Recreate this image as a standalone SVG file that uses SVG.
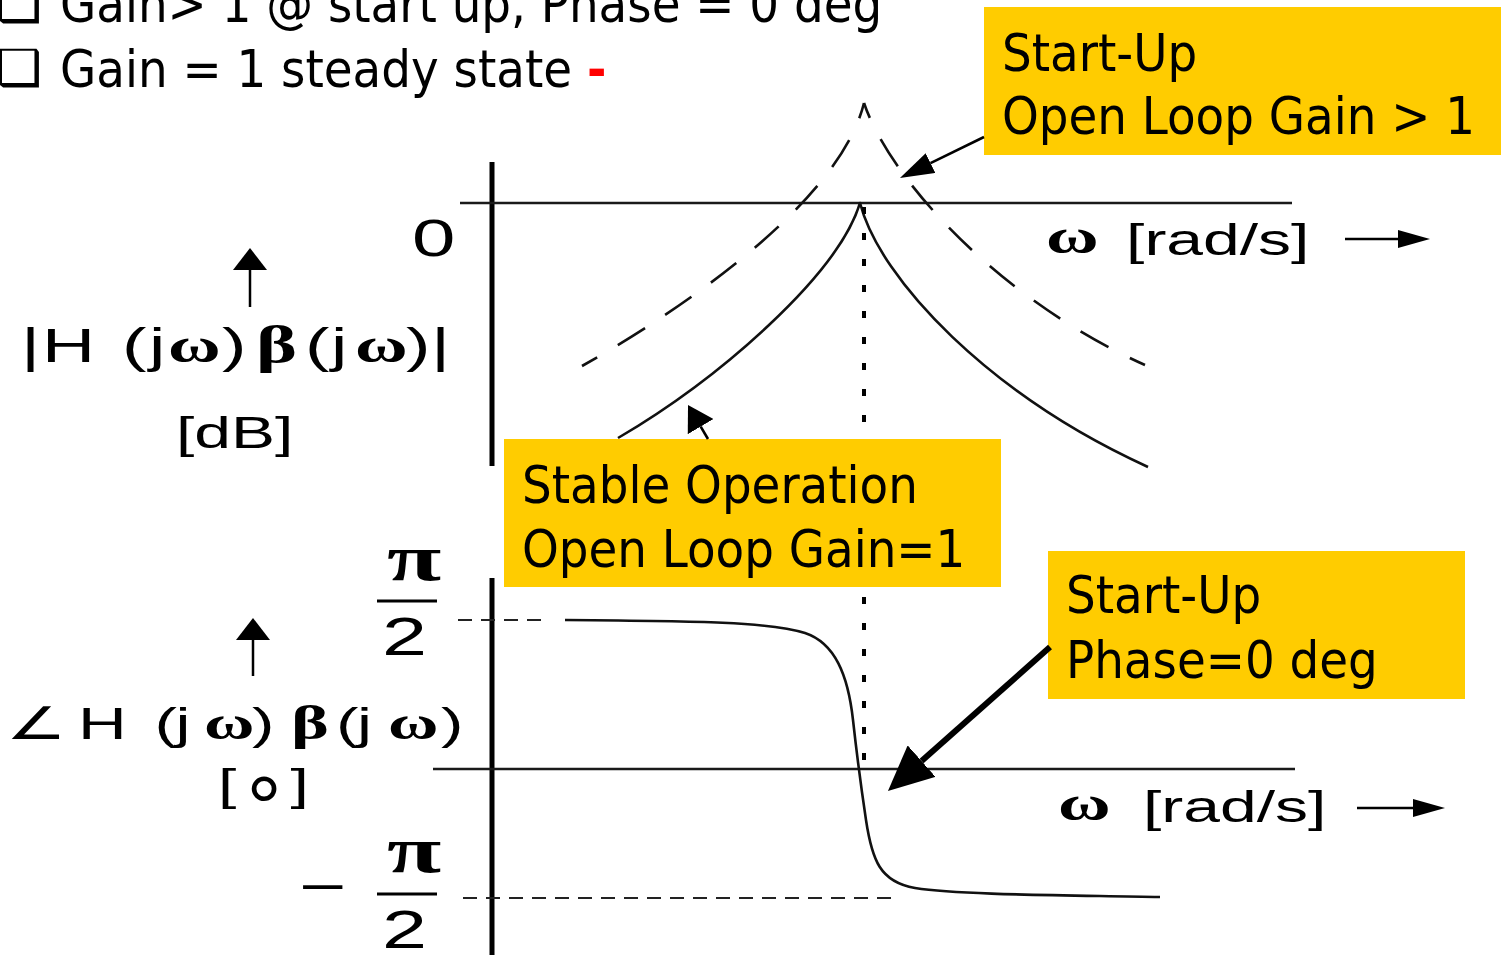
<svg xmlns="http://www.w3.org/2000/svg" width="1501" height="955" viewBox="0 0 1501 955">
<style>
.callout{fill:#FFCC00}
.ctext{font-family:"DejaVu Sans Condensed","DejaVu Sans","Liberation Sans",sans-serif;font-stretch:condensed;font-size:52px;fill:#000}
.bul{font-family:"DejaVu Sans",sans-serif;font-size:50px;fill:#000}
.lbl{font-family:"Liberation Sans",Arial,sans-serif;fill:#000}
.gk{font-family:"Liberation Serif","Times New Roman",serif;font-weight:bold;fill:#000}
.axis{stroke:#000;stroke-width:5;fill:none}
.ref{stroke:#1a1a1a;stroke-width:2.4;fill:none}
.trace{stroke:#111;stroke-width:2.6;fill:none;stroke-linejoin:round}
.trace-dash{stroke:#111;stroke-width:2.6;fill:none;stroke-dasharray:32 24;stroke-dashoffset:16}
.guide{stroke:#000;stroke-width:4;stroke-dasharray:7 19;fill:none}
.level{stroke:#222;stroke-width:2;stroke-dasharray:14 9;fill:none}
.bar{stroke:#000;stroke-width:3;fill:none}
.ptr{stroke:#000;fill:none}
</style>
<defs>
  <marker id="headA" markerUnits="userSpaceOnUse" viewBox="0 0 34 22" markerWidth="34" markerHeight="22" refX="0" refY="11" orient="auto"><path d="M0,0 L34,11 L0,22 Z" fill="#000"/></marker>
  <marker id="headB" markerUnits="userSpaceOnUse" viewBox="0 0 25 30" markerWidth="25" markerHeight="30" refX="0" refY="15" orient="auto"><path d="M0,0 L25,15 L0,30 Z" fill="#000"/></marker>
  <marker id="headC" markerUnits="userSpaceOnUse" viewBox="0 0 45 42" markerWidth="45" markerHeight="42" refX="0" refY="21" orient="auto"><path d="M0,0 L45,21 L0,42 Z" fill="#000"/></marker>
  <marker id="headUp" markerUnits="userSpaceOnUse" viewBox="0 0 22 34" markerWidth="22" markerHeight="34" refX="0" refY="17" orient="auto"><path d="M0,0 L22,17 L0,34 Z" fill="#000"/></marker>
  <marker id="headRight" markerUnits="userSpaceOnUse" viewBox="0 0 32 18" markerWidth="32" markerHeight="18" refX="0" refY="9" orient="auto"><path d="M0,0 L32,9 L0,18 Z" fill="#000"/></marker>
</defs>
<rect width="1501" height="955" fill="#fff"/>

<!-- bullet list -->
<g id="bullets">
  <text class="bul" x="-3" y="21">❑</text>
  <text class="ctext" x="60" y="22">Gain&gt; 1 @ start up, Phase = 0 deg</text>
  <text class="bul" x="-3" y="85">❑</text>
  <text class="ctext" x="60" y="87">Gain = 1 steady state</text>
  <text class="ctext" x="587" y="87" style="fill:#f00;font-weight:bold">-</text>
</g>

<!-- axes and reference lines -->
<g id="plot">
  <path class="axis" d="M492,162 L492,466"/>
  <path class="axis" d="M492,578 L492,955"/>
  <path class="ref" d="M460,203 L1292,203"/>
  <path class="ref" d="M433,769 L1295,769"/>
  <path class="level" d="M458,620 L548,620"/>
  <path class="level" d="M463,898 L893,898"/>
  <path class="bar" d="M377,601 L437,601"/>
  <path class="bar" d="M377,894 L437,894"/>
  <!-- magnitude, start-up (dashed) and steady state (solid) -->
  <path class="trace-dash" d="M864,103 C840,200 690,305 582,366"/>
  <path class="trace-dash" d="M864,103 C890,180 1000,300 1145,365"/>
  <path class="trace" d="M618,438 C720,378 838,275 860,203 C880,280 990,395 1148,467"/>
  <!-- phase -->
  <path class="trace" d="M565,620 C700,621 770,622 805,633 C835,643 848,675 853,720 C857,756 860,780 866,820 C872,860 880,882 915,888 C960,895 1060,895 1160,897"/>
  <path class="guide" d="M864,207 L864,766"/>
  <!-- axis direction arrows -->
  <path class="ptr" stroke-width="2.5" d="M250,307 L250,270" marker-end="url(#headUp)"/>
  <path class="ptr" stroke-width="2.5" d="M253,676 L253,640" marker-end="url(#headUp)"/>
  <path class="ptr" stroke-width="2.5" d="M1345,239 L1398,239" marker-end="url(#headRight)"/>
  <path class="ptr" stroke-width="2.5" d="M1357,808 L1413,808" marker-end="url(#headRight)"/>
</g>

<!-- axis labels (wide-set lettering) -->
<g id="axis-labels">
  <g transform="scale(1.5,1)">
    <text class="lbl" y="362" font-size="49"><tspan x="14">|</tspan><tspan x="28">H</tspan><tspan x="81.3">(</tspan><tspan x="99.3">j</tspan><tspan class="gk" x="112" font-size="48">ω</tspan><tspan x="148">)</tspan><tspan class="gk" x="170.7" font-size="52">β</tspan><tspan x="203.3">(</tspan><tspan x="220.7">j</tspan><tspan class="gk" x="236.7" font-size="48">ω</tspan><tspan x="270.7">)</tspan><tspan x="287.3">|</tspan></text>
    <text class="lbl" x="117.3" y="448" font-size="44">[dB]</text>
    <text class="lbl" x="274.7" y="256" font-size="52">0</text>
    <text class="gk" x="697.3" y="253" font-size="48">ω</text>
    <text class="lbl" x="750.7" y="255" font-size="44">[rad/s]</text>

    <text class="lbl" y="739" font-size="45"><tspan x="4" font-family="DejaVu Sans">∠</tspan><tspan x="52">H</tspan><tspan x="103">(</tspan><tspan x="117">j</tspan><tspan class="gk" x="136" font-size="46">ω</tspan><tspan x="168">)</tspan><tspan class="gk" x="194" font-size="48">β</tspan><tspan x="224">(</tspan><tspan x="238">j</tspan><tspan class="gk" x="258.7" font-size="46">ω</tspan><tspan x="294">)</tspan></text>
    <text class="lbl" y="800" font-size="44"><tspan x="145.3">[</tspan><tspan x="193.7">]</tspan></text>
    <text class="gk" x="705.3" y="820" font-size="48">ω</text>
    <text class="lbl" x="762" y="822" font-size="44">[rad/s]</text>

    <text class="gk" x="258" y="580" font-size="66">π</text>
    <text class="lbl" x="254.7" y="655" font-size="54">2</text>
    <text class="lbl" x="199.3" y="905" font-size="54">−</text>
    <text class="gk" x="258" y="872" font-size="66">π</text>
    <text class="lbl" x="254.7" y="948" font-size="54">2</text>
  </g>
  <text class="lbl" x="264" y="838" font-size="88" text-anchor="middle">°</text>
</g>

<!-- callouts -->
<g id="callout-startup-gain">
  <rect class="callout" x="984" y="7" width="517" height="148"/>
  <text class="ctext" x="1002" y="71">Start-Up</text>
  <text class="ctext" x="1002" y="134">Open Loop Gain &gt; 1</text>
</g>
<g id="callout-stable">
  <rect class="callout" x="504" y="439" width="497" height="148"/>
  <text class="ctext" x="522" y="503">Stable Operation</text>
  <text class="ctext" x="522" y="567">Open Loop Gain=1</text>
</g>
<g id="callout-startup-phase">
  <rect class="callout" x="1048" y="551" width="417" height="148"/>
  <text class="ctext" x="1066" y="613">Start-Up</text>
  <text class="ctext" x="1066" y="678">Phase=0 deg</text>
</g>

<!-- pointers from callouts -->
<g id="connectors">
  <path class="ptr" stroke-width="2.6" d="M984,137 L930.5,163.1" marker-end="url(#headA)"/>
  <path class="ptr" stroke-width="2.6" d="M708,439 L700.7,426.6" marker-end="url(#headB)"/>
  <path class="ptr" stroke-width="6" d="M1050,647 L921.6,761.1" marker-end="url(#headC)"/>
</g>
</svg>
